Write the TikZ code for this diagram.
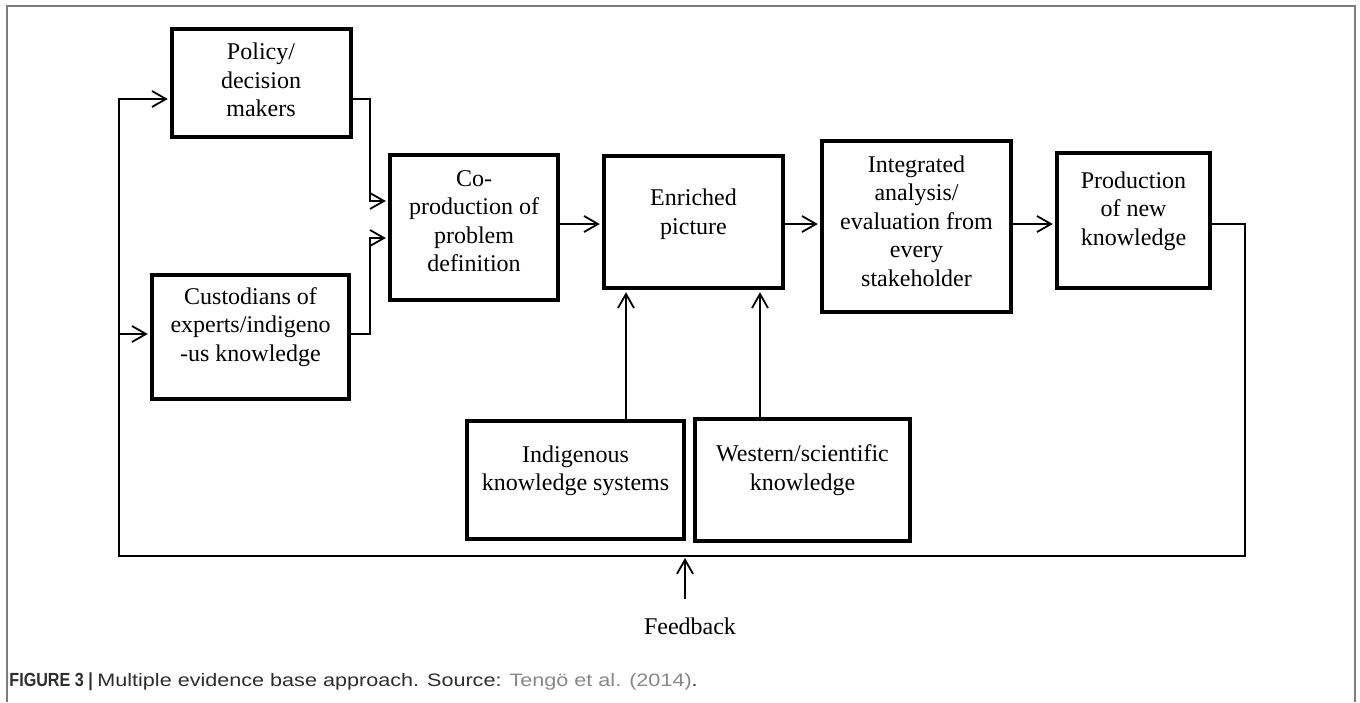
\documentclass[tikz,border=0pt]{standalone}
\usepackage{fontspec}
\setmainfont{Liberation Serif}
\newfontfamily\capfont[FakeStretch=1.2]{Liberation Sans}
\newfontfamily\capboldfont[FakeStretch=0.85]{Liberation Sans}
\usetikzlibrary{arrows.meta}
\definecolor{framegray}{RGB}{125,125,125}
\definecolor{captext}{RGB}{45,45,45}
\definecolor{citegray}{RGB}{135,135,135}

\begin{document}
\begin{tikzpicture}[x=0.5pt, y=-0.5pt,
        box/.style={draw, line width=2.2pt, rectangle, inner sep=0pt},
        txt/.style={align=center, inner sep=0pt, font=\fontsize{12}{14.25}\selectfont},
        conn/.style={line width=0.9pt, shorten >=1pt, -{Straight Barb[length=7pt,width=8pt]}}]

        \useasboundingbox (0,0) rectangle (1360,702);

        \draw[framegray, line width=0.75pt] (7,702) -- (7,6) -- (1355,6) -- (1355,702);

        % boxes
        \node[box, minimum width=89.5pt, minimum height=54pt] (policy) at (261.5,83) {};
        \node[box, minimum width=98.5pt, minimum height=62pt] (custodians) at (250.5,337) {};
        \node[box, minimum width=84pt, minimum height=72.5pt] (coprod) at (474,227.5) {};
        \node[box, minimum width=89.5pt, minimum height=66pt] (enriched) at (693.5,222) {};
        \node[box, minimum width=94.5pt, minimum height=85.5pt] (integrated) at (916.5,226.5) {};
        \node[box, minimum width=76.5pt, minimum height=67.5pt] (production) at (1133.5,220.5) {};
        \node[box, minimum width=108.5pt, minimum height=59pt] (indigenous) at (575.5,480) {};
        \node[box, minimum width=107.5pt, minimum height=61pt] (western) at (802.5,480) {};

        % texts
        \node[txt] (policyT) at (261,80) {Policy/\\decision\\makers};
        \node[txt] (custodiansT) at (250.5,327) {Custodians of\\experts/indigeno\\-us knowledge};
        \node[txt] (coprodT) at (474,221) {Co-\\production of\\problem\\definition};
        \node[txt] (enrichedT) at (693.5,214) {Enriched\\picture};
        \node[txt] (integratedT) at (916.5,221) {Integrated\\analysis/\\evaluation from\\every\\stakeholder};
        \node[txt] (productionT) at (1133.5,211) {Production\\of new\\knowledge};
        \node[txt] (indigenousT) at (575.5,471) {Indigenous\\knowledge systems};
        \node[txt] (westernT) at (802.5,470) {Western/scientific\\knowledge};
        \node[txt] (feedback) at (690,626) {Feedback};

        % #######################################

        \coordinate (rowA) at (0,224);
        \coordinate (rowP) at (0,99);
        \coordinate (rowC) at (0,334);
        \coordinate (in1) at (0,201);
        \coordinate (in2) at (0,238);
        \coordinate (jx) at (370,0);
        \coordinate (colI) at (626,0);
        \coordinate (colW) at (760,0);
        \coordinate (fbL) at (119,556);
        \coordinate (fbR) at (1245,556);
        \coordinate (fbtail) at (685,599);

        \draw[conn] (policy.east |- rowP) -| (jx |- in1) -- (coprod.west |- in1);
        \draw[conn] (custodians.east |- rowC) -| (jx |- in2) -- (coprod.west |- in2);

        \draw[conn] (coprod.east |- rowA) -- (enriched.west |- rowA);
        \draw[conn] (enriched.east |- rowA) -- (integrated.west |- rowA);
        \draw[conn] (integrated.east |- rowA) -- (production.west |- rowA);

        \draw[conn] (indigenous.north -| colI) -- (enriched.south -| colI);
        \draw[conn] (western.north -| colW) -- (enriched.south -| colW);

        \draw[conn] (production.east |- rowA) -| (fbR) -- (fbL) |- (policy.west |- rowP);
        \draw[conn] (fbL |- rowC) -- (custodians.west |- rowC);
        \draw[conn] (fbtail) -- (fbtail |- fbL);

        \node[anchor=base west, inner sep=0pt, text=captext] (caption) at (9,686)
            {\capboldfont\bfseries\fontsize{9.5}{11}\selectfont FIGURE 3 |
             \capfont\mdseries\fontsize{9}{11}\selectfont Multiple evidence base approach. Source:
             \textcolor{citegray}{Tengö et al. (2014)}.};

\end{tikzpicture}
\end{document}
